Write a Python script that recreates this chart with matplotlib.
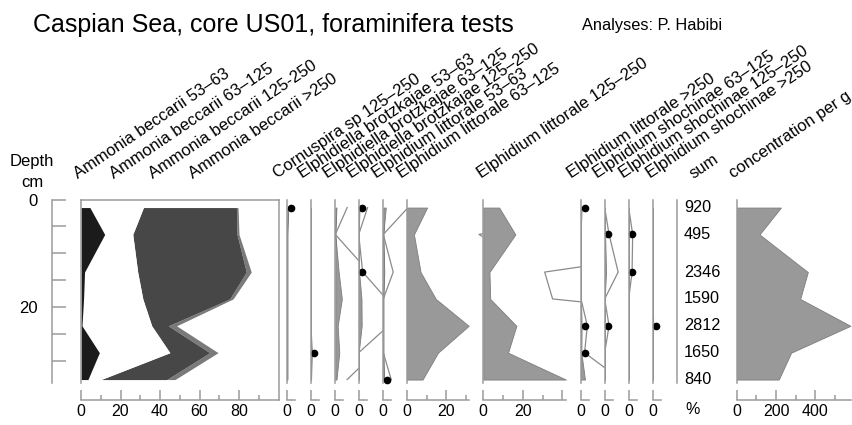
import numpy as np
import matplotlib.pyplot as plt
from matplotlib.ticker import FixedLocator

plt.rcParams['font.family'] = ['Liberation Sans', 'DejaVu Sans']

# DATA
depth = [1.5, 6.5, 13.5, 18.5, 23.5, 28.5, 33.5]

# Ammonia beccarii size fractions (%), plotted cumulatively
ammonia_53 = [4.5, 12.0, 1.8, 1.3, 0.5, 9.3, 3.5]
ammonia_63 = [27.1, 14.2, 26.9, 30.0, 35.3, 35.7, 6.6]
ammonia_125 = [47.1, 52.8, 55.0, 44.0, 8.4, 20.2, 33.3]
ammonia_250 = [0.8, 1.0, 2.5, 1.7, 4.2, 4.2, 4.2]

cornuspira_125 = [0.5, 0, 0, 0, 0, 0, 0]
elphidiella_53 = [0, 0, 0, 0, 0, 0.6, 0.2]
elphidiella_63 = [0.6, 0, 1.7, 3.3, 1.2, 2.0, 0.6]
elphidiella_125 = [0.45, 0, 0.2, 1.4, 1.5, 0, 0]
littorale_53 = [1.25, 0, 0.5, 0, 0, 0, 0.4]
littorale_63 = [10.3, 3.65, 7.0, 14.7, 31.3, 15.8, 8.0]
littorale_125 = [8.0, 16.2, 3.1, 3.5, 16.7, 12.5, 41.7]
littorale_250 = [0.05, 0, 0, 0, 0.32, 0.18, 2.0]
shochinae_63 = [0, 0.22, 0.68, 0, 0.22, 0, 0]
shochinae_125 = [0, 0.2, 0.17, 0, 0, 0, 0]
shochinae_250 = [0, 0, 0, 0, 0.3, 0, 0]

# rare occurrences marked with a dot
cornuspira_dots = [1, 0, 0, 0, 0, 0, 0]
elphidiella_53_dots = [0, 0, 0, 0, 0, 1, 0]
elphidiella_125_dots = [1, 0, 1, 0, 0, 0, 0]
littorale_53_dots = [0, 0, 0, 0, 0, 0, 1]
littorale_250_dots = [1, 0, 0, 0, 1, 1, 0]
shochinae_63_dots = [0, 1, 0, 0, 1, 0, 0]
shochinae_125_dots = [0, 1, 1, 0, 0, 0, 0]
shochinae_250_dots = [0, 0, 0, 0, 1, 0, 0]
no_dots = [0] * 7

sum_counts = [920, 495, 2346, 1590, 2812, 1650, 840]
concentration = [225, 116, 362, 323, 579, 277, 214]

# LAYOUT (pixels)
W, H = 852, 425
y_top, y_bot = 199.5, 383.3
px_cm = 5.375
d_max = (y_bot - y_top) / px_cm
PX = 1.98
EXAG = 10
GRAY = '#9b9b9b'
FILL = '#999999'
EDGE = '#7d7d7d'

fig = plt.figure(figsize=(W / 100, H / 100), dpi=100)


def fx(x):
    return x / W


def fy(y):
    return 1 - y / H


def panel(x0, x1, scale):
    ax = fig.add_axes([fx(x0), fy(y_bot), (x1 - x0) / W, (y_bot - y_top) / H])
    ax.set_xlim(0, (x1 - x0) / scale)
    ax.set_ylim(d_max, 0)
    ax.patch.set_visible(False)
    ax.spines['top'].set_visible(False)
    ax.spines['right'].set_visible(False)
    for s in ['left', 'bottom']:
        ax.spines[s].set_color(GRAY)
        ax.spines[s].set_linewidth(1.1)
    ax.spines['bottom'].set_position(('outward', 12))
    ax.set_yticks([])
    ax.tick_params(axis='x', which='both', direction='in', colors=GRAY,
                   labelcolor='black', labelsize=11.5, pad=3, width=1.1)
    ax.tick_params(axis='x', which='major', length=7)
    ax.tick_params(axis='x', which='minor', length=3.5)
    return ax


# depth axis
axd = fig.add_axes([fx(52), fy(y_bot), 20 / W, (y_bot - y_top) / H])
axd.set_ylim(d_max, 0)
axd.patch.set_visible(False)
for s in ['top', 'right', 'bottom']:
    axd.spines[s].set_visible(False)
axd.spines['left'].set_color(GRAY)
axd.spines['left'].set_linewidth(1.1)
axd.set_xticks([])
axd.yaxis.set_major_locator(FixedLocator([0, 20]))
axd.yaxis.set_minor_locator(FixedLocator([5, 10, 15, 25, 30]))
axd.tick_params(axis='y', which='both', direction='in', length=10, colors=GRAY,
                labelcolor='black', labelsize=12, pad=10, width=1.1)
fig.text(fx(32), fy(166), 'Depth', ha='center', va='baseline', fontsize=12)
fig.text(fx(32), fy(187), 'cm', ha='center', va='baseline', fontsize=12)

# Ammonia cumulative panel
ax = panel(81, 287.3, 1.975)
c1 = np.array(ammonia_53)
c2 = c1 + np.array(ammonia_63)
c3 = c2 + np.array(ammonia_125)
c4 = c3 + np.array(ammonia_250)
ax.fill_betweenx(depth, c3, c4, color='#7a7a7a', lw=0)
ax.fill_betweenx(depth, c2, c3, color='#474747', lw=0)
ax.fill_betweenx(depth, c1, c2, color='white', lw=0)
ax.fill_betweenx(depth, 0, c1, color='#1b1b1b', lw=0)
off = 16.7 / px_cm
ax.plot([0, 100], [0, 0], color=GRAY, lw=1.1, clip_on=False)
ax.plot([100, 100], [0, d_max + off], color=GRAY, lw=1.1, clip_on=False)
ax.spines['bottom'].set_bounds(0, 100)
ax.xaxis.set_major_locator(FixedLocator([0, 20, 40, 60, 80]))
ax.xaxis.set_minor_locator(FixedLocator([10, 30, 50, 70, 90]))

# single taxa
taxa = [
    (cornuspira_125, cornuspira_dots, False, 287.3, 310.7),
    (elphidiella_53, elphidiella_53_dots, False, 310.7, 335.3),
    (elphidiella_63, no_dots, True, 335.3, 358.7),
    (elphidiella_125, elphidiella_125_dots, True, 358.7, 383.3),
    (littorale_53, littorale_53_dots, True, 383.3, 406.7),
    (littorale_63, no_dots, True, 406.7, 483.3),
    (littorale_125, no_dots, True, 483.3, 581.0),
    (littorale_250, littorale_250_dots, True, 581.0, 604.7),
    (shochinae_63, shochinae_63_dots, True, 604.7, 628.7),
    (shochinae_125, shochinae_125_dots, True, 628.7, 652.7),
    (shochinae_250, shochinae_250_dots, False, 652.7, 676.7),
]

for vals, dots, exag, x0, x1 in taxa:
    ax = panel(x0, x1, PX)
    vals = np.array(vals, dtype=float)
    ax.fill_betweenx(depth, 0, vals, facecolor=FILL, edgecolor=EDGE, lw=0.6)
    if exag:
        ax.plot(vals * EXAG, depth, color='#8a8a8a', lw=0.9)
    dd = [d for d, f in zip(depth, dots) if f]
    ax.plot([1.9] * len(dd), dd, 'o', color='black', ms=4.5, clip_on=False)
    vmax = vals.max()
    if vmax > 20:
        ax.spines['bottom'].set_bounds(0, vmax)
        if vmax > 40:
            ax.xaxis.set_major_locator(FixedLocator([0, 20, 40]))
            ax.set_xticklabels(['0', '20', ''])
            ax.xaxis.set_minor_locator(FixedLocator([10, 30]))
        else:
            ax.xaxis.set_major_locator(FixedLocator([0, 20]))
            ax.xaxis.set_minor_locator(FixedLocator([10, 30]))
    else:
        ax.spines['bottom'].set_bounds(0, 4)
        ax.xaxis.set_major_locator(FixedLocator([0]))

# sum column
ax = panel(676.7, 736.7, 1.0)
ax.spines['bottom'].set_visible(False)
ax.set_xticks([])
for d, s in zip(depth, sum_counts):
    ax.text(7.3, d, str(s), ha='left', va='center', fontsize=11.7)
fig.text(fx(693), fy(410), '%', ha='center', va='center', fontsize=11.5)

# concentration
ax = panel(736.7, 851, 0.1965)
ax.fill_betweenx(depth, 0, concentration, facecolor=FILL, edgecolor=EDGE, lw=0.6)
ax.spines['bottom'].set_bounds(0, ax.get_xlim()[1])
ax.xaxis.set_major_locator(FixedLocator([0, 200, 400]))
ax.xaxis.set_minor_locator(FixedLocator([100, 300, 500]))

# column headers
headers = [
    ('Ammonia beccarii 53–63', 78),
    ('Ammonia beccarii 63–125', 114),
    ('Ammonia beccarii 125-250', 153),
    ('Ammonia beccarii >250', 193),
    ('Cornuspira sp 125–250', 277),
    ('Elphidiella brotzkajae 53–63', 302),
    ('Elphidiella brotzkajae 63–125', 327),
    ('Elphidiella brotzkajae 125–250', 351),
    ('Elphidium littorale 53–63', 376),
    ('Elphidium littorale 63–125', 401),
    ('Elphidium littorale 125–250', 481),
    ('Elphidium littorale >250', 571),
    ('Elphidium shochinae 63–125', 597),
    ('Elphidium shochinae 125–250', 623),
    ('Elphidium shochinae >250', 650),
    ('sum', 694),
    ('concentration per g', 733),
]
for text, x in headers:
    fig.text(fx(x), fy(179), text, rotation=34, rotation_mode='anchor',
             ha='left', va='baseline', fontsize=12)

fig.text(fx(33), fy(32), 'Caspian Sea, core US01, foraminifera tests',
         ha='left', va='baseline', fontsize=18)
fig.text(fx(582), fy(30), 'Analyses: P. Habibi', ha='left', va='baseline', fontsize=11.8)

fig.savefig('out.png', dpi=100)
